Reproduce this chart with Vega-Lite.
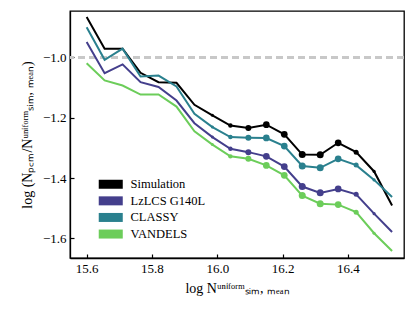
{
  "$schema": "https://vega.github.io/schema/vega-lite/v6.json",
  "width": 334,
  "height": 247,
  "autosize": {"type": "none"},
  "padding": {"left": 70, "top": 11, "right": 11, "bottom": 58},
  "config": {
    "view": {"stroke": "#000000", "strokeWidth": 1.3},
    "font": "Liberation Serif",
    "axis": {
      "grid": false,
      "domainColor": "#000000",
      "domainWidth": 1.3,
      "tickColor": "#000000",
      "tickSize": -4,
      "tickWidth": 1.2,
      "labelFont": "Liberation Serif",
      "labelFontSize": 13,
      "labelColor": "#000000",
      "titleFont": "Liberation Serif",
      "titleFontSize": 14,
      "titleFontWeight": "normal",
      "titleColor": "#000000"
    },
    "legend": {
      "labelFont": "Liberation Serif",
      "labelFontSize": 12.5,
      "labelColor": "#000000"
    }
  },
  "data": {
    "values": [
      {"x": 15.6, "y": -0.866, "series": "Simulation", "weight": 0},
      {"x": 15.655, "y": -0.971, "series": "Simulation", "weight": 0},
      {"x": 15.71, "y": -0.971, "series": "Simulation", "weight": 0},
      {"x": 15.765, "y": -1.051, "series": "Simulation", "weight": 0},
      {"x": 15.82, "y": -1.082, "series": "Simulation", "weight": 0},
      {"x": 15.875, "y": -1.084, "series": "Simulation", "weight": 0},
      {"x": 15.93, "y": -1.157, "series": "Simulation", "weight": 0},
      {"x": 15.985, "y": -1.192, "series": "Simulation", "weight": 9},
      {"x": 16.04, "y": -1.226, "series": "Simulation", "weight": 20},
      {"x": 16.095, "y": -1.234, "series": "Simulation", "weight": 36},
      {"x": 16.15, "y": -1.223, "series": "Simulation", "weight": 45},
      {"x": 16.205, "y": -1.255, "series": "Simulation", "weight": 45},
      {"x": 16.26, "y": -1.322, "series": "Simulation", "weight": 49},
      {"x": 16.315, "y": -1.323, "series": "Simulation", "weight": 49},
      {"x": 16.37, "y": -1.283, "series": "Simulation", "weight": 45},
      {"x": 16.425, "y": -1.314, "series": "Simulation", "weight": 25},
      {"x": 16.48, "y": -1.378, "series": "Simulation", "weight": 10},
      {"x": 16.535, "y": -1.491, "series": "Simulation", "weight": 0},

      {"x": 15.6, "y": -0.949, "series": "LzLCS G140L", "weight": 0},
      {"x": 15.655, "y": -1.052, "series": "LzLCS G140L", "weight": 0},
      {"x": 15.71, "y": -1.023, "series": "LzLCS G140L", "weight": 0},
      {"x": 15.765, "y": -1.082, "series": "LzLCS G140L", "weight": 0},
      {"x": 15.82, "y": -1.098, "series": "LzLCS G140L", "weight": 0},
      {"x": 15.875, "y": -1.143, "series": "LzLCS G140L", "weight": 0},
      {"x": 15.93, "y": -1.218, "series": "LzLCS G140L", "weight": 0},
      {"x": 15.985, "y": -1.264, "series": "LzLCS G140L", "weight": 9},
      {"x": 16.04, "y": -1.303, "series": "LzLCS G140L", "weight": 20},
      {"x": 16.095, "y": -1.314, "series": "LzLCS G140L", "weight": 36},
      {"x": 16.15, "y": -1.328, "series": "LzLCS G140L", "weight": 45},
      {"x": 16.205, "y": -1.362, "series": "LzLCS G140L", "weight": 45},
      {"x": 16.26, "y": -1.428, "series": "LzLCS G140L", "weight": 49},
      {"x": 16.315, "y": -1.449, "series": "LzLCS G140L", "weight": 49},
      {"x": 16.37, "y": -1.436, "series": "LzLCS G140L", "weight": 45},
      {"x": 16.425, "y": -1.454, "series": "LzLCS G140L", "weight": 25},
      {"x": 16.48, "y": -1.518, "series": "LzLCS G140L", "weight": 10},
      {"x": 16.535, "y": -1.579, "series": "LzLCS G140L", "weight": 0},

      {"x": 15.6, "y": -0.9, "series": "CLASSY", "weight": 0},
      {"x": 15.655, "y": -1.008, "series": "CLASSY", "weight": 0},
      {"x": 15.71, "y": -0.971, "series": "CLASSY", "weight": 0},
      {"x": 15.765, "y": -1.063, "series": "CLASSY", "weight": 0},
      {"x": 15.82, "y": -1.06, "series": "CLASSY", "weight": 0},
      {"x": 15.875, "y": -1.096, "series": "CLASSY", "weight": 0},
      {"x": 15.93, "y": -1.187, "series": "CLASSY", "weight": 0},
      {"x": 15.985, "y": -1.231, "series": "CLASSY", "weight": 9},
      {"x": 16.04, "y": -1.264, "series": "CLASSY", "weight": 20},
      {"x": 16.095, "y": -1.266, "series": "CLASSY", "weight": 36},
      {"x": 16.15, "y": -1.267, "series": "CLASSY", "weight": 45},
      {"x": 16.205, "y": -1.294, "series": "CLASSY", "weight": 45},
      {"x": 16.26, "y": -1.36, "series": "CLASSY", "weight": 49},
      {"x": 16.315, "y": -1.366, "series": "CLASSY", "weight": 49},
      {"x": 16.37, "y": -1.336, "series": "CLASSY", "weight": 45},
      {"x": 16.425, "y": -1.357, "series": "CLASSY", "weight": 25},
      {"x": 16.48, "y": -1.406, "series": "CLASSY", "weight": 10},
      {"x": 16.535, "y": -1.463, "series": "CLASSY", "weight": 0},

      {"x": 15.6, "y": -1.019, "series": "VANDELS", "weight": 0},
      {"x": 15.655, "y": -1.076, "series": "VANDELS", "weight": 0},
      {"x": 15.71, "y": -1.093, "series": "VANDELS", "weight": 0},
      {"x": 15.765, "y": -1.123, "series": "VANDELS", "weight": 0},
      {"x": 15.82, "y": -1.123, "series": "VANDELS", "weight": 0},
      {"x": 15.875, "y": -1.163, "series": "VANDELS", "weight": 0},
      {"x": 15.93, "y": -1.245, "series": "VANDELS", "weight": 0},
      {"x": 15.985, "y": -1.289, "series": "VANDELS", "weight": 9},
      {"x": 16.04, "y": -1.328, "series": "VANDELS", "weight": 20},
      {"x": 16.095, "y": -1.336, "series": "VANDELS", "weight": 36},
      {"x": 16.15, "y": -1.358, "series": "VANDELS", "weight": 45},
      {"x": 16.205, "y": -1.391, "series": "VANDELS", "weight": 45},
      {"x": 16.26, "y": -1.458, "series": "VANDELS", "weight": 49},
      {"x": 16.315, "y": -1.485, "series": "VANDELS", "weight": 49},
      {"x": 16.37, "y": -1.488, "series": "VANDELS", "weight": 45},
      {"x": 16.425, "y": -1.513, "series": "VANDELS", "weight": 25},
      {"x": 16.48, "y": -1.583, "series": "VANDELS", "weight": 10},
      {"x": 16.535, "y": -1.642, "series": "VANDELS", "weight": 0}
    ]
  },
  "encoding": {
    "x": {
      "field": "x", "type": "quantitative",
      "scale": {"domain": [15.549, 16.5715], "nice": false, "zero": false},
      "axis": {"values": [15.6, 15.8, 16.0, 16.2, 16.4], "format": ".1f", "labelPadding": 8, "title": "log Nᵘⁿⁱᶠᵒʳᵐₛᵢₘ, ₘₑₐₙ", "titlePadding": 6}
    },
    "y": {
      "field": "y", "type": "quantitative",
      "scale": {"domain": [-1.665, -0.846], "nice": false, "zero": false},
      "axis": {"values": [-1.6, -1.4, -1.2, -1.0], "format": ".1f", "labelPadding": 8, "title": "log (Nₚ꜀ₘ/Nᵘⁿⁱᶠᵒʳᵐₛᵢₘ, ₘₑₐₙ)", "titlePadding": 8}
    },
    "color": {
      "field": "series", "type": "nominal",
      "scale": {"domain": ["Simulation", "LzLCS G140L", "CLASSY", "VANDELS"], "range": ["#000000", "#443f8c", "#2a808e", "#6ccd5a"]},
      "legend": {
        "title": null,
        "orient": "none",
        "legendX": 34.5,
        "legendY": 167,
        "symbolType": "M-2.67,-1H2.67V1H-2.67Z",
        "symbolSize": 81,
        "symbolStrokeWidth": 0,
        "symbolOpacity": 1,
        "symbolFillColor": "#000000",
        "labelOffset": 13.5,
        "rowPadding": 3.6
      }
    }
  },
  "layer": [
    {
      "mark": {"type": "rule", "color": "#c8c8c8", "strokeWidth": 2, "strokeDash": [7, 4]},
      "encoding": {"x": null, "color": null, "y": {"datum": -1.0}}
    },
    {
      "mark": {"type": "line", "strokeWidth": 2},
      "encoding": {}
    },
    {
      "mark": {"type": "point", "filled": true, "opacity": 1, "shape": "circle"},
      "encoding": {
        "size": {"field": "weight", "type": "quantitative", "scale": {"type": "linear", "domain": [0, 50], "range": [0, 50]}, "legend": null}
      }
    }
  ]
}
